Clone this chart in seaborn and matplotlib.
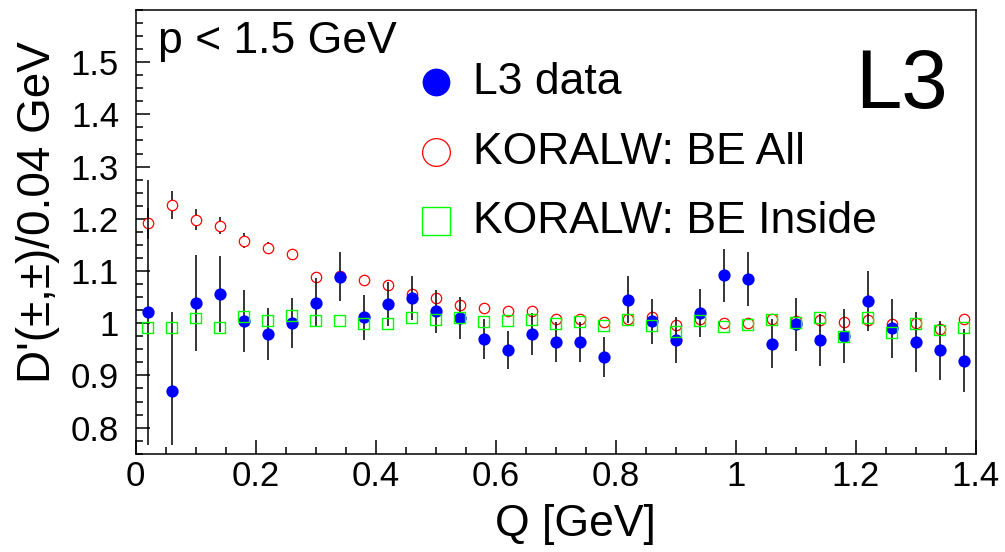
import numpy as np
import pandas as pd
import matplotlib
matplotlib.use("Agg")
import matplotlib.pyplot as plt
from matplotlib.ticker import MultipleLocator, FormatStrFormatter
import seaborn as sns

# Q bin centres [GeV]
q = [0.02, 0.06, 0.10, 0.14, 0.18, 0.22, 0.26, 0.30, 0.34, 0.38,
     0.42, 0.46, 0.50, 0.54, 0.58, 0.62, 0.66, 0.70, 0.74, 0.78,
     0.82, 0.86, 0.90, 0.94, 0.98, 1.02, 1.06, 1.10, 1.14, 1.18,
     1.22, 1.26, 1.30, 1.34, 1.38]

# L3 data
l3_data = [1.022, 0.871, 1.039, 1.056, 1.004, 0.979, 1.000, 1.039, 1.089, 1.011,
           1.037, 1.049, 1.023, 1.010, 0.970, 0.949, 0.979, 0.964, 0.964, 0.935,
           1.045, 1.004, 0.968, 1.019, 1.092, 1.085, 0.961, 0.998, 0.968, 0.975,
           1.043, 0.990, 0.964, 0.948, 0.928]
l3_err_hi = [0.253, 0.150, 0.092, 0.073, 0.059, 0.050, 0.048, 0.047, 0.047, 0.043,
             0.042, 0.042, 0.041, 0.040, 0.038, 0.037, 0.040, 0.038, 0.038, 0.038,
             0.045, 0.043, 0.044, 0.046, 0.051, 0.052, 0.047, 0.051, 0.050, 0.052,
             0.057, 0.057, 0.058, 0.057, 0.060]
l3_err_lo = [0.256, 0.105, 0.092, 0.073, 0.059, 0.050, 0.048, 0.047, 0.047, 0.043,
             0.042, 0.042, 0.041, 0.040, 0.038, 0.037, 0.040, 0.038, 0.038, 0.038,
             0.045, 0.043, 0.044, 0.046, 0.051, 0.052, 0.047, 0.051, 0.050, 0.052,
             0.057, 0.057, 0.058, 0.057, 0.060]

# KORALW with BE between all pions
be_all = [1.191, 1.226, 1.198, 1.187, 1.158, 1.144, 1.132, 1.089, 1.090, 1.083,
          1.074, 1.056, 1.049, 1.034, 1.030, 1.023, 1.024, 1.009, 1.008, 1.003,
          1.008, 1.011, 0.997, 1.008, 1.000, 1.000, 1.008, 1.004, 1.006, 1.002,
          1.006, 0.998, 1.000, 0.989, 1.008]
be_all_err = [0.030, 0.027, 0.020, 0.016, 0.014, 0.012, 0.011, 0.010, 0.009, 0.008,
              0.008, 0.008, 0.008, 0.008, 0.008, 0.008, 0.008, 0.008, 0.008, 0.008,
              0.008, 0.008, 0.008, 0.008, 0.008, 0.008, 0.008, 0.008, 0.008, 0.008,
              0.008, 0.008, 0.008, 0.008, 0.008]

# KORALW with BE inside the same W only
be_inside = [0.992, 0.992, 1.010, 0.992, 1.013, 1.006, 1.015, 1.005, 1.006, 1.000,
             0.999, 1.011, 1.008, 1.011, 1.003, 1.006, 1.008, 1.000, 1.004, 0.996,
             1.008, 0.996, 0.985, 1.006, 0.994, 0.997, 1.008, 1.002, 1.011, 0.975,
             1.011, 0.982, 1.000, 0.987, 0.992]

df = pd.DataFrame({"q": q, "l3": l3_data, "all": be_all, "inside": be_inside})

sns.set_theme(style="ticks")
plt.rcParams["font.family"] = ["Liberation Sans", "DejaVu Sans"]
plt.rcParams["axes.linewidth"] = 1.1
for key in ["text.color", "axes.labelcolor", "xtick.color", "ytick.color", "axes.edgecolor"]:
    plt.rcParams[key] = "black"

fig, ax = plt.subplots(figsize=(10.05, 5.52), dpi=100)
fig.subplots_adjust(left=0.135, right=0.971, bottom=0.178, top=0.982)

# error bars (black, no caps)
ax.errorbar(q, be_all, yerr=be_all_err, fmt="none", ecolor="black", elinewidth=1.1, zorder=1)
ax.errorbar(q, l3_data, yerr=[l3_err_lo, l3_err_hi], fmt="none", ecolor="black",
            elinewidth=1.1, zorder=2.5)

sns.scatterplot(data=df, x="q", y="all", ax=ax, marker="o", s=56, facecolor="white",
                edgecolor="#ff0000", linewidth=0.9, label="KORALW: BE All", zorder=2)
sns.scatterplot(data=df, x="q", y="l3", ax=ax, marker="o", s=78, color="#0000ff",
                edgecolor="#0000ff", linewidth=0, label="L3 data", zorder=3)
sns.scatterplot(data=df, x="q", y="inside", ax=ax, marker="s", s=62, facecolor="none",
                edgecolor="#00ff00", linewidth=1.0, label="KORALW: BE Inside", zorder=5)

ax.set_xlim(0, 1.4)
ax.set_ylim(0.75, 1.6)
ax.xaxis.set_major_locator(MultipleLocator(0.2))
ax.xaxis.set_minor_locator(MultipleLocator(0.05))
ax.yaxis.set_minor_locator(MultipleLocator(0.025))
ax.xaxis.set_major_formatter(FormatStrFormatter("%g"))
ax.yaxis.set_major_formatter(FormatStrFormatter("%g"))
ax.set_yticks([0.8, 0.9, 1.0, 1.1, 1.2, 1.3, 1.4, 1.5])
ax.tick_params(which="major", direction="in", length=10, width=1.1, labelsize=25,
               top=False, right=False, colors="black")
ax.tick_params(which="minor", direction="in", length=5, width=1.1, top=False, right=False)
ax.tick_params(axis="x", which="major", pad=4.5)
ax.tick_params(axis="y", which="major", pad=12)
for sp in ax.spines.values():
    sp.set_color("black")

ax.set_xlabel("Q [GeV]", fontsize=32)
ax.set_ylabel("D'(±,±)/0.04 GeV", fontsize=33)
ax.xaxis.set_label_coords(0.523, -0.113)
ax.yaxis.set_label_coords(-0.090, 0.545)

ax.text(0.0265, 0.903, "p < 1.5 GeV", transform=ax.transAxes, fontsize=32,
        ha="left", va="baseline")
ax.text(0.967, 0.779, "L3", transform=ax.transAxes, fontsize=60,
        ha="right", va="baseline")

handles, labels = ax.get_legend_handles_labels()
order = [labels.index("L3 data"), labels.index("KORALW: BE All"),
         labels.index("KORALW: BE Inside")]
leg = ax.legend([handles[i] for i in order], [labels[i] for i in order],
                loc="upper left", bbox_to_anchor=(0.3363, 0.8824), frameon=False,
                fontsize=32, handlelength=0.8, handletextpad=0.435,
                labelspacing=0.64, borderpad=0, borderaxespad=0)
for h in leg.legend_handles:
    h.set_sizes([400])

plt.savefig("out.png", dpi=100)
